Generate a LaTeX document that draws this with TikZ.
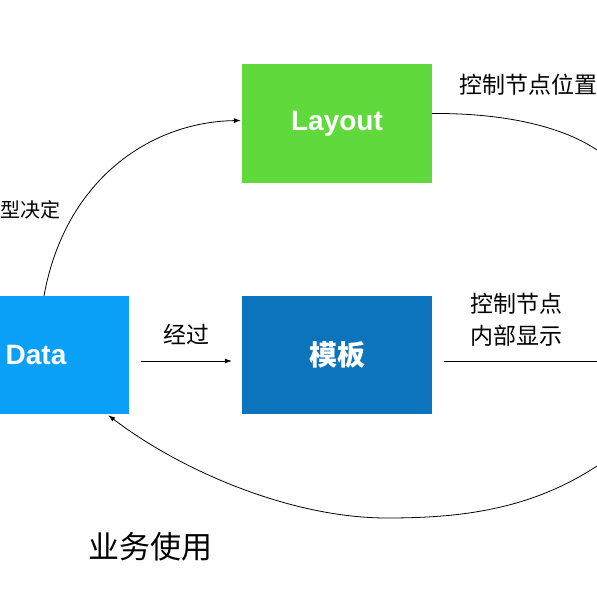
\documentclass[tikz,border=0pt]{standalone}
\usepackage{fontspec}
\setmainfont{Noto Sans CJK SC}
\newfontfamily\latfont{Liberation Sans}
\usetikzlibrary{arrows.meta,calc}
\definecolor{cdata}{RGB}{11,160,248}
\definecolor{ctpl}{RGB}{12,116,188}
\definecolor{clay}{RGB}{95,217,59}
\begin{document}
\begin{tikzpicture}[x=1pt,y=-1pt,
  box/.style={draw=none,inner sep=0pt,text=white,font=\fontsize{28}{32}\selectfont\bfseries},
  lbl/.style={font=\fontsize{23}{32}\selectfont,align=center,inner sep=0pt},
  conn/.style={line width=0.8pt},
  arr/.style={conn,-{Latex[length=7pt,width=5pt]}}]
\useasboundingbox (0,0) rectangle (597,596);
\node[box,fill=cdata,minimum width=186pt,minimum height=118pt] (data) at (36,355) {\latfont Data};
\node[box,fill=clay,minimum width=190pt,minimum height=119pt] (layout) at (337,123.5) {\latfont Layout};
\node[box,fill=ctpl,minimum width=190pt,minimum height=118pt] (tpl) at (337,355) {模板};
\coordinate (r1) at (597,150);
\coordinate (r2) at (597,361);
\coordinate (r3) at (597,466);
\coordinate (bot) at (387,518);
\draw[arr] ($(data.north)+(8,0)$) .. controls (65,180) and (150,122) .. ($(layout.west)+(-1,-3)$);
\draw[conn] ($(layout.east)+(0,-10)$) .. controls (500,113) and (560,125) .. (r1);
\draw[arr] ($(data.east)+(12,6)$) -- ($(tpl.west)+(-10,6)$);
\draw[conn] ($(tpl.east)+(12,6)$) -- (r2);
\draw[arr] (r3) .. controls (530,510) and (460,518) .. (bot) .. controls (290,518) and (180,470) .. ($(data.south east)+(-21,1)$);
\node[lbl,font=\fontsize{20}{28}\selectfont,anchor=west] (l1) at (0.5,210) {型决定};
\node[lbl,anchor=west] (l2) at (459,85) {控制节点位置};
\node[lbl] (l3) at (186,334) {经过};
\node[lbl] (l4) at (516,320) {控制节点\\内部显示};
\node[lbl,font=\fontsize{31}{36}\selectfont,anchor=west] (l5) at (88,547) {业务使用};
\end{tikzpicture}
\end{document}
